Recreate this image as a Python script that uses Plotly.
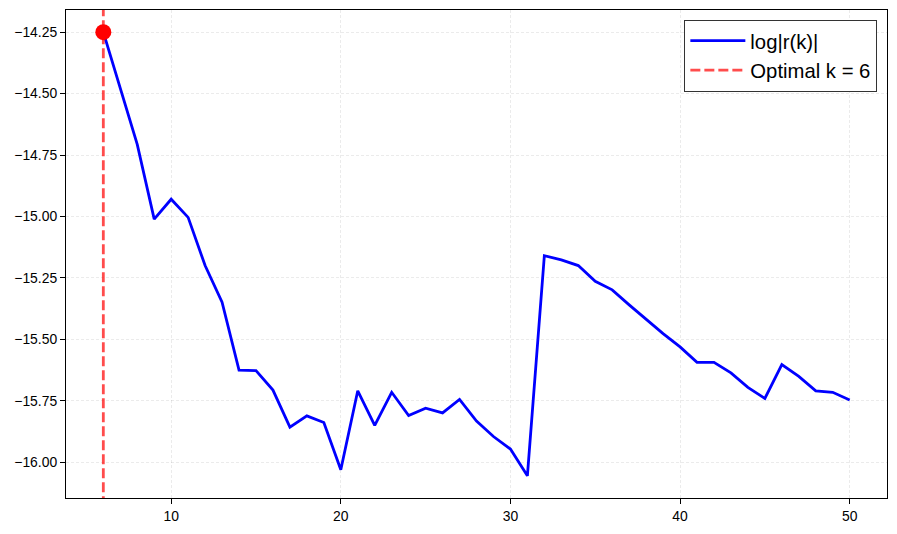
import numpy as np
import plotly.graph_objects as go

# log|r(k)| for each k
k_values = list(range(6, 51))
log_r = [-14.25, -14.48, -14.707, -15.011, -14.93, -15.004, -15.20, -15.349,
         -15.626, -15.628, -15.707, -15.858, -15.812, -15.839, -16.031,
         -15.710, -15.851, -15.716, -15.811, -15.781, -15.800, -15.745,
         -15.833, -15.896, -15.947, -16.056, -15.160, -15.177, -15.200,
         -15.264, -15.299, -15.36, -15.42, -15.477, -15.531, -15.594,
         -15.594, -15.637, -15.696, -15.741, -15.603, -15.651, -15.710,
         -15.716, -15.747]
optimal_k = 6

font_family = "Liberation Sans, Arial, sans-serif"
grid_style = dict(showgrid=True, gridcolor='rgba(0,0,0,0.08)',
                  griddash='3px,2px', gridwidth=0.8)

x_arr = np.array(k_values)
y_arr = np.array(log_r)
x_pad = 0.05 * (x_arr.max() - x_arr.min())
y_pad = 0.05 * (y_arr.max() - y_arr.min())
best_y = y_arr[x_arr == optimal_k][0]

fig = go.Figure()
fig.add_trace(go.Scatter(x=k_values, y=log_r, mode='lines', name='log|r(k)|',
                         line=dict(color='#0000ff', width=2.8)))
fig.add_trace(go.Scatter(x=[optimal_k, optimal_k],
                         y=[y_arr.min() - 2 * y_pad, y_arr.max() + 2 * y_pad],
                         mode='lines', name=f'Optimal k = {optimal_k}',
                         line=dict(color='rgba(255,0,0,0.7)', width=2.8,
                                   dash='10px,4px')))
fig.add_trace(go.Scatter(x=[optimal_k], y=[best_y], mode='markers',
                         showlegend=False,
                         marker=dict(color='#ff0000', size=16)))

fig.update_layout(
    width=897, height=534,
    margin=dict(l=66, r=10, t=10, b=36),
    plot_bgcolor='white', paper_bgcolor='white',
    font=dict(family=font_family, size=13.9, color='black'),
    showlegend=True,
    legend=dict(x=0.988, y=0.98, xanchor='right', yanchor='top',
                bgcolor='white', bordercolor='#333333', borderwidth=1.2,
                font=dict(size=20.3), tracegroupgap=0,
                itemwidth=55),
)
fig.update_xaxes(range=[x_arr.min() - x_pad, x_arr.max() + x_pad],
                 tick0=0, dtick=10, ticks='outside', ticklen=5,
                 tickcolor='black', showline=True, linecolor='black',
                 linewidth=1.1, mirror=True, zeroline=False,
                 automargin=False, **grid_style)
fig.update_yaxes(range=[y_arr.min() - y_pad, y_arr.max() + y_pad],
                 tick0=0, dtick=0.25, tickformat='.2f', ticks='outside',
                 ticklen=5, tickcolor='black', showline=True,
                 linecolor='black', linewidth=1.1, mirror=True,
                 zeroline=False, automargin=False, **grid_style)

fig.write_html("out.html", config={'displayModeBar': False},
               post_script="document.body.style.margin='0';")
